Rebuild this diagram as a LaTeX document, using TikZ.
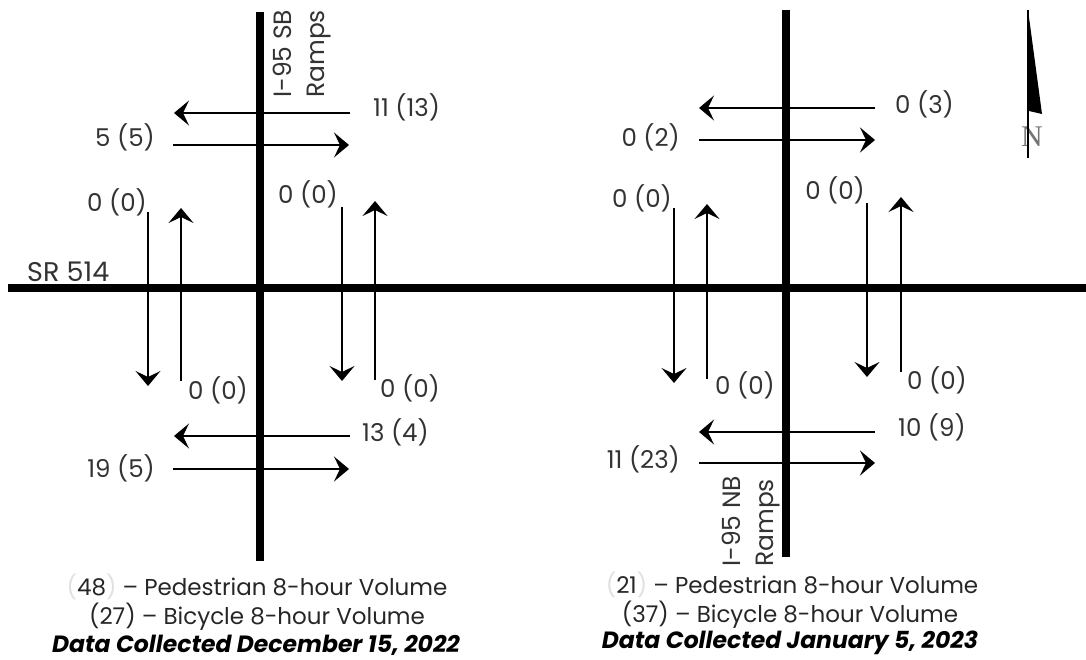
\documentclass[tikz,border=0pt]{standalone}
\usepackage{fontspec}
\setmainfont{Poppins}
\newfontfamily\northfont{Liberation Serif}
\usetikzlibrary{arrows.meta}

\begin{document}
\begin{tikzpicture}[x=1pt,y=-1pt,
  road/.style={line width=8pt},
  flow/.style={line width=2pt,-{Stealth[length=15pt,width=25pt,inset=6pt]}},
  vol/.style={text=black!80,font=\fontsize{24.5}{28}\selectfont,inner sep=0pt},
  roadname/.style={text=black!80,font=\fontsize{25}{33}\selectfont,inner sep=0pt,align=left},
  legend/.style={text=black!85,font=\fontsize{23}{28}\selectfont,inner sep=0pt},
  datestyle/.style={text=black,font=\fontsize{23.5}{28}\selectfont\bfseries\itshape,inner sep=0pt}
]
\useasboundingbox (0,0) rectangle (1086,660);

% ---- roads ----
\coordinate (srW) at (8,288);
\coordinate (srE) at (1086,288);
\coordinate (sbN) at (260,12);
\coordinate (sbS) at (260,561);
\coordinate (nbN) at (786,10);
\coordinate (nbS) at (786,557);
\draw[road] (srW) -- (srE);
\draw[road] (sbN) -- (sbS);
\draw[road] (nbN) -- (nbS);

\node[roadname,font=\fontsize{27}{33}\selectfont,anchor=west] (sr) at (27,272) {SR 514};
\node[roadname,rotate=90,anchor=north west] (sbname) at (273,98) {I-95 SB\\Ramps};
\node[roadname,rotate=90,anchor=north west] (nbname) at (722,567) {I-95 NB\\Ramps};

% ---- movements at the I-95 SB ramps ----
\coordinate (a1s) at (350,113); \coordinate (a1e) at (174,113);
\coordinate (a2s) at (173,145); \coordinate (a2e) at (349,145);
\coordinate (a3s) at (148,212); \coordinate (a3e) at (148,386);
\coordinate (a4s) at (181,381); \coordinate (a4e) at (181,208);
\coordinate (a5s) at (342,207); \coordinate (a5e) at (342,381);
\coordinate (a6s) at (375,380); \coordinate (a6e) at (375,201);
\coordinate (a7s) at (350,436); \coordinate (a7e) at (174,436);
\coordinate (a8s) at (173,469); \coordinate (a8e) at (349,469);
\foreach \i in {1,...,8} \draw[flow] (a\i s) -- (a\i e);

\node[vol,anchor=west] (l1) at (373,107) {11 (13)};
\node[vol,anchor=east] (l2) at (155,137) {5 (5)};
\node[vol,anchor=east] (l3) at (147,202) {0 (0)};
\node[vol,anchor=west] (l4) at (188,390) {0 (0)};
\node[vol,anchor=east] (l5) at (338,194) {0 (0)};
\node[vol,anchor=west] (l6) at (380,388) {0 (0)};
\node[vol,anchor=west] (l7) at (362,432) {13 (4)};
\node[vol,anchor=east] (l8) at (155,468) {19 (5)};

% ---- movements at the I-95 NB ramps ----
\coordinate (b1s) at (875,108); \coordinate (b1e) at (699,108);
\coordinate (b2s) at (699,140); \coordinate (b2e) at (875,140);
\coordinate (b3s) at (674,208); \coordinate (b3e) at (674,383);
\coordinate (b4s) at (707,379); \coordinate (b4e) at (707,204);
\coordinate (b5s) at (867,203); \coordinate (b5e) at (867,377);
\coordinate (b6s) at (901,372); \coordinate (b6e) at (901,197);
\coordinate (b7s) at (875,432); \coordinate (b7e) at (699,432);
\coordinate (b8s) at (699,463); \coordinate (b8e) at (875,463);
\foreach \i in {1,...,8} \draw[flow] (b\i s) -- (b\i e);

\node[vol,anchor=west] (r1) at (895,104) {0 (3)};
\node[vol,anchor=east] (r2) at (680,137) {0 (2)};
\node[vol,anchor=east] (r3) at (672,198) {0 (0)};
\node[vol,anchor=west] (r4) at (715,385) {0 (0)};
\node[vol,anchor=east] (r5) at (865,190) {0 (0)};
\node[vol,anchor=west] (r6) at (907,380) {0 (0)};
\node[vol,anchor=west] (r7) at (898,427) {10 (9)};
\node[vol,anchor=east] (r8) at (680,459) {11 (23)};

% ---- legends ----
\node[legend] (lg1) at (257,587) {{\color{black!12}(}48{\color{black!12})} -- Pedestrian 8-hour Volume};
\node[legend] (lg2) at (257,617) {(27) -- Bicycle 8-hour Volume};
\node[datestyle] (lg3) at (256,645) {Data Collected December 15, 2022};
\node[legend] (rg1) at (792,585) {{\color{black!12}(}21{\color{black!12})} -- Pedestrian 8-hour Volume};
\node[legend] (rg2) at (790,615) {(37) -- Bicycle 8-hour Volume};
\node[datestyle] (rg3) at (790,643) {Data Collected January 5, 2023};

% ---- north arrow ----
\coordinate (nTop) at (1028,10);
\coordinate (nBot) at (1028,158);
\fill (nTop) -- (1042,114) -- (1029,111) -- cycle;
\node[text=black!55,font=\northfont\fontsize{30}{30}\selectfont,inner sep=0pt] (north) at (1032,137) {N};
\draw[line width=1.6pt] (nTop) -- (nBot);
\end{tikzpicture}
\end{document}
